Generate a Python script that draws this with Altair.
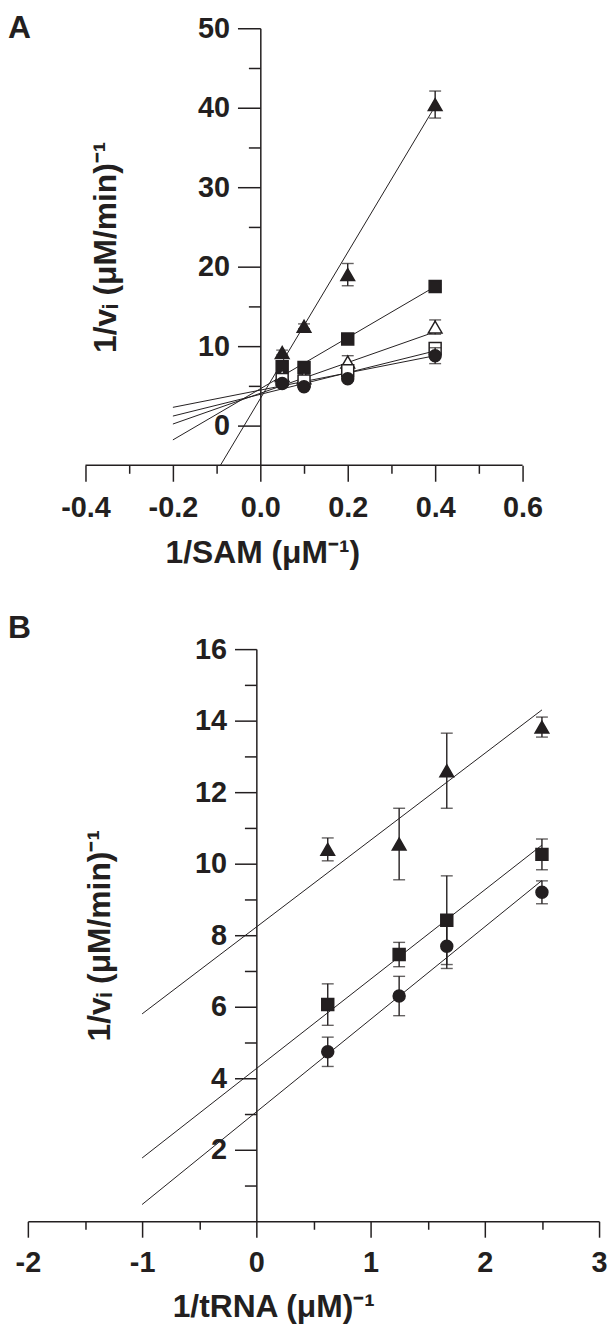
import altair as alt
import pandas as pd

# ---------------- Panel A: 1/v vs 1/SAM ----------------
sam_inv = [0.05, 0.1, 0.2, 0.4]
a_tri_y = [9.2, 12.5, 19.0, 40.4]
a_tri_err = [0.3, 0.3, 1.4, 1.7]
a_sq_y = [7.4, 7.3, 10.9, 17.5]
a_sq_err = [0.4, 0.3, 0.3, 0.3]
a_otri_y = [6.3, 6.0, 8.0, 12.4]
a_otri_err = [0.4, 0.4, 0.8, 0.9]
a_osq_y = [5.8, 5.6, 6.9, 9.7]
a_osq_err = [0.3, 0.3, 0.4, 0.5]
a_circ_y = [5.3, 4.9, 5.9, 8.8]
a_circ_err = [0.3, 0.3, 0.3, 1.0]

a_fit_x = [-0.2, 0.4]
a_fit_tri = [-15.0, 40.2]
a_fit_sq = [-1.8, 17.5]
a_fit_otri = [0.2, 11.8]
a_fit_osq = [1.2, 9.4]
a_fit_circ = [2.3, 8.8]

a_x_ticks = [-0.4, -0.3, -0.2, -0.1, 0.0, 0.1, 0.2, 0.3, 0.4, 0.5, 0.6]
a_y_ticks = [0, 5, 10, 15, 20, 25, 30, 35, 40, 45, 50]
a_x_axis_span = [-0.4, 0.6]
a_y_min = -5

# ---------------- Panel B: 1/v vs 1/tRNA ----------------
trna_inv = [0.625, 1.25, 1.667, 2.5]
b_tri_y = [10.40, 10.55, 12.60, 13.82]
b_tri_err = [0.32, 1.00, 1.05, 0.28]
b_sq_y = [6.06, 7.46, 8.42, 10.26]
b_sq_err = [0.58, 0.34, 1.24, 0.43]
b_circ_y = [4.74, 6.30, 7.69, 9.20]
b_circ_err = [0.41, 0.55, 0.62, 0.32]

b_fit_x = [-1.0, 2.5]
b_fit_tri = [5.8, 14.3]
b_fit_sq = [1.77, 10.52]
b_fit_circ = [0.47, 9.53]

b_x_ticks = [-2, -1.5, -1, -0.5, 0, 0.5, 1, 1.5, 2, 2.5, 3]
b_y_ticks = list(range(1, 17))

INK = "#231f20"
FONT = "Liberation Sans"


def make_panel(xs, series, fits, fit_x, xscale, yscale, xaxis, yaxis, letter, letter_x, letter_y, w, h,
               axis_span=None, axis_y=None):
    def X(field):
        return alt.X(field, type="quantitative", scale=xscale, axis=xaxis, title=xaxis.title)

    def Y(field):
        return alt.Y(field, type="quantitative", scale=yscale, axis=yaxis, title=yaxis.title)

    layers = []
    if axis_span is not None:
        dfa = pd.DataFrame({"x": [axis_span[0]], "x2": [axis_span[1]], "y": [axis_y]})
        layers.append(
            alt.Chart(dfa).mark_rule(color=INK, strokeWidth=1.5).encode(x=X("x"), x2="x2:Q", y=Y("y"))
        )
    for fy in fits:
        df = pd.DataFrame({"x": fit_x, "y": fy})
        layers.append(
            alt.Chart(df).mark_line(color=INK, strokeWidth=1, clip=True).encode(x=X("x"), y=Y("y"))
        )
    for ys, errs, shape, filled in series:
        df = pd.DataFrame({
            "x": xs,
            "y": ys,
            "lo": [a - b for a, b in zip(ys, errs)],
            "hi": [a + b for a, b in zip(ys, errs)],
        })
        base = alt.Chart(df)
        layers.append(base.mark_rule(color=INK, strokeWidth=1.4).encode(x=X("x"), y=Y("lo"), y2="hi:Q"))
        layers.append(base.mark_tick(color=INK, orient="horizontal", size=12, thickness=1.4).encode(x=X("x"), y=Y("lo")))
        layers.append(base.mark_tick(color=INK, orient="horizontal", size=12, thickness=1.4).encode(x=X("x"), y=Y("hi")))
        size = 190 if shape == "triangle-up" else 145
        layers.append(
            base.mark_point(
                shape=shape, filled=True, size=size,
                fill=INK if filled else "white", stroke=INK, strokeWidth=1.5, opacity=1,
            ).encode(x=X("x"), y=Y("y"))
        )
    lab = pd.DataFrame({"t": [letter]})
    layers.append(
        alt.Chart(lab).mark_text(
            align="left", baseline="alphabetic", fontSize=32, fontWeight="bold", font=FONT, color=INK
        ).encode(text="t:N", x=alt.value(letter_x), y=alt.value(letter_y))
    )
    return alt.layer(*layers).properties(width=w, height=h)


common_axis = dict(
    grid=False,
    domainColor=INK,
    domainWidth=1.5,
    tickColor=INK,
    tickWidth=1.5,
    labelFont=FONT,
    labelFontSize=29,
    labelFontWeight="bold",
    labelColor=INK,
    titleFont=FONT,
    titleFontSize=32,
    titleFontWeight="bold",
    titleColor=INK,
    labelOverlap=False,
    labelFlush=False,
)

# Panel A axes (plot area widened to the left so both panels share a left edge)
a_xaxis = alt.Axis(
    values=a_x_ticks,
    domain=False,
    tickSize={"condition": {"test": "abs(round(datum.value*10)) % 2 == 0", "value": 16}, "value": 8},
    labelExpr="abs(round(datum.value*10)) % 2 == 0 ? (datum.value < -0.001 ? '-' : '') + format(abs(datum.value), '.1f') : ''",
    labelPadding=12,
    title="1/SAM (μM⁻¹)",
    titleX=236,
    titlePadding=16,
    **common_axis,
)
a_yaxis = alt.Axis(
    values=a_y_ticks,
    offset=-234,
    tickSize={"condition": {"test": "datum.value % 10 == 0", "value": 23}, "value": 12},
    labelExpr="datum.value % 10 == 0 ? format(datum.value, 'd') : ''",
    labelPadding=8,
    title="1/vᵢ (μM/min)⁻¹",
    titleX=-139,
    **common_axis,
)
a_x_scale = alt.Scale(domain=[-0.5318, 0.6], nice=False, zero=False)
a_y_scale = alt.Scale(domain=[a_y_min, 50], nice=False, zero=False)

panel_a = make_panel(
    sam_inv,
    [
        (a_tri_y, a_tri_err, "triangle-up", True),
        (a_sq_y, a_sq_err, "square", True),
        (a_otri_y, a_otri_err, "triangle-up", False),
        (a_osq_y, a_osq_err, "square", False),
        (a_circ_y, a_circ_err, "circle", True),
    ],
    [a_fit_tri, a_fit_sq, a_fit_otri, a_fit_osq, a_fit_circ],
    a_fit_x, a_x_scale, a_y_scale, a_xaxis, a_yaxis, "A", -20, 10, 498, 440,
    axis_span=a_x_axis_span, axis_y=a_y_min,
)

# Panel B axes
b_xaxis = alt.Axis(
    values=b_x_ticks,
    tickSize={"condition": {"test": "abs(round(datum.value*2)) % 2 == 0", "value": 16}, "value": 8},
    labelExpr="abs(round(datum.value*2)) % 2 == 0 ? (datum.value < -0.001 ? '-' : '') + format(abs(datum.value), 'd') : ''",
    labelPadding=12,
    title="1/tRNA (μM)⁻¹",
    titleX=247,
    titlePadding=14,
    **common_axis,
)
b_yaxis = alt.Axis(
    values=b_y_ticks,
    offset=-230,
    tickSize={"condition": {"test": "datum.value % 2 == 0", "value": 22}, "value": 12},
    labelExpr="datum.value % 2 == 0 ? format(datum.value, 'd') : ''",
    labelPadding=8,
    title="1/vᵢ (μM/min)⁻¹",
    titleX=-141,
    **common_axis,
)
b_x_scale = alt.Scale(domain=[-2, 3], nice=False, zero=False)
b_y_scale = alt.Scale(domain=[0, 16], nice=False, zero=False)

panel_b = make_panel(
    trna_inv,
    [
        (b_tri_y, b_tri_err, "triangle-up", True),
        (b_sq_y, b_sq_err, "square", True),
        (b_circ_y, b_circ_err, "circle", True),
    ],
    [b_fit_tri, b_fit_sq, b_fit_circ],
    b_fit_x, b_x_scale, b_y_scale, b_xaxis, b_yaxis, "B", -20, -11, 575, 576,
)

chart = (
    alt.concat(panel_a, panel_b, columns=1, spacing=44)
    .properties(padding=0, background="white")
    .configure_view(strokeOpacity=0)
)

chart.save("out.html", embed_options={"renderer": "svg", "actions": False})
